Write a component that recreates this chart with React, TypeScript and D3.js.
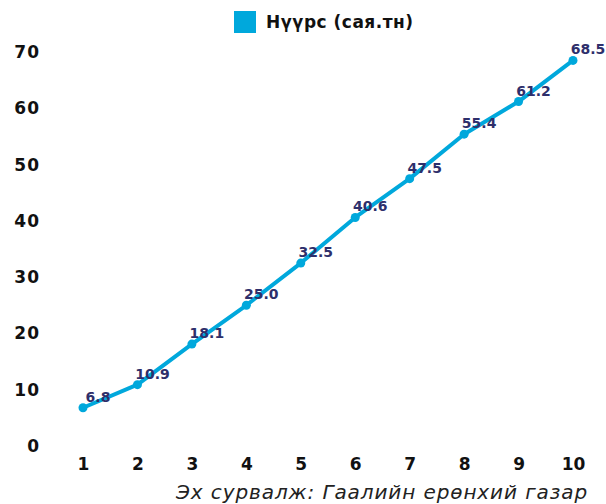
import { useEffect, useRef } from 'react';
import * as d3 from 'd3';

const years = ['1', '2', '3', '4', '5', '6', '7', '8', '9', '10'];
const coal = [6.8, 10.9, 18.1, 25.0, 32.5, 40.6, 47.5, 55.4, 61.2, 68.5];
const yTicks = [0, 10, 20, 30, 40, 50, 60, 70];
const seriesName = 'Нүүрс (сая.тн)';
const sourceText = 'Эх сурвалж: Гаалийн ерөнхий газар';

const FONT = '"DejaVu Sans", "Noto Sans", sans-serif';
const LINE = '#00a8dc';
const LABEL = '#2e2f6b';

const App = () => {
  const svgRef = useRef<SVGSVGElement>(null);

  useEffect(() => {
    const svg = d3.select(svgRef.current);
    svg.selectAll('*').remove();

    // Scales
    const x = d3
      .scalePoint<string>()
      .domain(years)
      .range([83, 573]);

    const y = d3.scaleLinear().domain([0, 70]).range([446, 52]);

    // Legend
    svg
      .append('rect')
      .attr('x', 234)
      .attr('y', 11)
      .attr('width', 22)
      .attr('height', 22)
      .attr('fill', LINE);
    svg
      .append('text')
      .attr('x', 266)
      .attr('y', 28)
      .style('font-family', FONT)
      .style('font-weight', 'bold')
      .style('font-size', '17px')
      .style('letter-spacing', '0.5px')
      .attr('fill', '#111')
      .text(seriesName);

    // Y axis labels
    const yAxis = svg
      .append('g')
      .attr('transform', 'translate(40,0)')
      .call(d3.axisLeft(y).tickValues(yTicks).tickSize(0).tickPadding(0));
    yAxis.select('.domain').remove();
    yAxis
      .selectAll('text')
      .style('font-family', FONT)
      .style('font-weight', 'bold')
      .style('font-size', '17px')
      .style('letter-spacing', '1px')
      .attr('fill', '#111');

    // X axis labels
    const xAxis = svg
      .append('g')
      .attr('transform', 'translate(0,458)')
      .call(d3.axisBottom(x).tickSize(0).tickPadding(0));
    xAxis.select('.domain').remove();
    xAxis
      .selectAll('text')
      .style('font-family', FONT)
      .style('font-weight', 'bold')
      .style('font-size', '17px')
      .attr('fill', '#111');

    // Line
    const line = d3
      .line<number>()
      .x((_, i) => x(years[i])!)
      .y(d => y(d));

    svg
      .append('path')
      .datum(coal)
      .attr('d', line)
      .attr('fill', 'none')
      .attr('stroke', LINE)
      .attr('stroke-width', 4)
      .attr('stroke-linejoin', 'round');

    svg
      .selectAll('.dot')
      .data(coal)
      .enter()
      .append('circle')
      .attr('class', 'dot')
      .attr('cx', (_, i) => x(years[i])!)
      .attr('cy', d => y(d))
      .attr('r', 4.5)
      .attr('fill', LINE);

    // Data labels
    svg
      .selectAll('.lbl')
      .data(coal)
      .enter()
      .append('text')
      .attr('class', 'lbl')
      .attr('x', (_, i) => x(years[i])! + 15)
      .attr('y', d => y(d) - 6)
      .attr('text-anchor', 'middle')
      .style('font-family', FONT)
      .style('font-weight', 'bold')
      .style('font-size', '14px')
      .attr('fill', LABEL)
      .text(d => d.toFixed(1));

    // Source
    svg
      .append('text')
      .attr('x', 588)
      .attr('y', 499)
      .attr('text-anchor', 'end')
      .style('font-family', FONT)
      .style('font-style', 'italic')
      .style('font-size', '20px')
      .style('letter-spacing', '0.9px')
      .attr('fill', '#222')
      .text(sourceText);
  }, []);

  return (
    <svg
      ref={svgRef}
      width={606}
      height={504}
      style={{ position: 'absolute', left: 0, top: 0 }}
    />
  );
};

export default App;
